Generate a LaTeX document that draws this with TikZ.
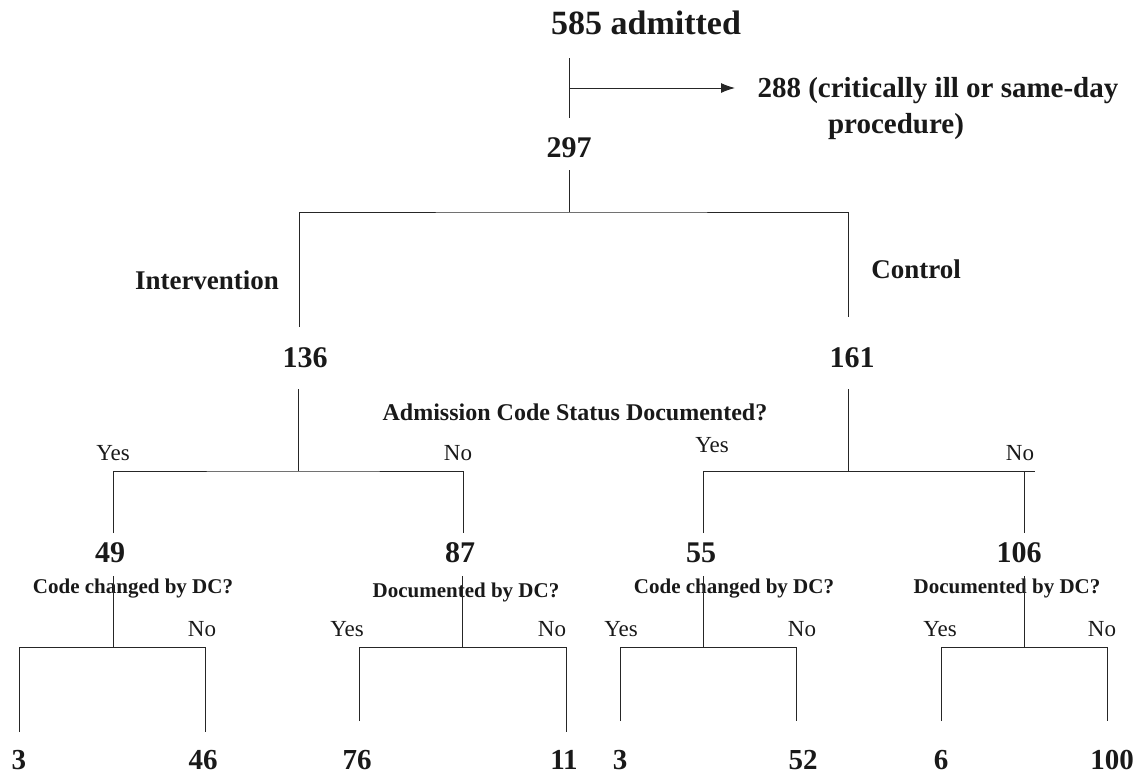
\documentclass[tikz,border=0pt]{standalone}
\usepackage{fontspec}
\setmainfont{Liberation Serif}
\usetikzlibrary{arrows.meta}

\begin{document}
\begin{tikzpicture}[x=1pt, y=-1pt, line width=1pt, draw=black!85,
    every node/.style={inner sep=0pt, text depth=0pt, text=black!90},
    top/.style={font=\fontsize{34}{38}\selectfont\bfseries, text height=23pt},
    num/.style={font=\fontsize{30}{34}\selectfont\bfseries, text height=20pt},
    leaf/.style={font=\fontsize{29}{33}\selectfont\bfseries, text height=19.5pt},
    cut/.style={font=\fontsize{29}{33}\selectfont\bfseries, text height=19pt},
    grp/.style={font=\fontsize{27}{31}\selectfont\bfseries, text height=18pt},
    ques/.style={font=\fontsize{24}{28}\selectfont\bfseries, text height=16pt},
    sub/.style={font=\fontsize{21}{25}\selectfont\bfseries, text height=14pt},
    yn/.style={font=\fontsize{23}{27}\selectfont, text height=15pt},
    arr/.style={-{Latex[length=14pt,width=10pt]}}]
    \useasboundingbox (0,0) rectangle (1140,774);

    % Admission and exclusion
    \node[top] (adm) at (646,23) {585 admitted};
    \node[cut, anchor=west] (cut) at (757,88) {288 (critically ill or same-day};
    \node[cut] (cutb) at (896,124) {procedure)};
    \node[num] (n297) at (569,147) {297};
    \coordinate (t0) at (569,58);
    \coordinate (t1) at (569,118);
    \coordinate (m1) at (569,88);
    \draw (t0) -- (t1);
    \draw[arr] (m1) -- ([xshift=-22pt]cut.west);

    % Randomisation
    \coordinate (j1) at (569,212);
    \coordinate (a1) at (299,327);
    \coordinate (b1) at (848,317);
    \draw (n297) ++(0,23) -- (j1);
    \draw (a1) |- (j1) -| (b1);
    \node[grp] (int) at (207,280) {Intervention};
    \node[grp] (ctl) at (916,269) {Control};
    \node[num] (n136) at (305,357) {136};
    \node[num] (n161) at (852,357) {161};

    % Admission code status
    \node[ques] (adq) at (575,412) {Admission Code Status Documented?};
    \coordinate (j2) at (298,471);
    \coordinate (c49) at (113,533);
    \coordinate (c87) at (463,533);
    \draw (298,389) -- (j2);
    \draw (c49) |- (j2) -| (c87);
    \node[yn] (y2) at (113,453) {Yes};
    \node[yn] (o2) at (458,453) {No};

    \coordinate (j3) at (848,471);
    \coordinate (k3) at (1024,471);
    \coordinate (e3) at (1035,471);
    \coordinate (c55) at (703,533);
    \coordinate (c106) at (1024,533);
    \draw (848,389) -- (j3);
    \draw (c55) |- (e3);
    \draw (k3) -- (c106);
    \node[yn] (y3) at (712,445) {Yes};
    \node[yn] (o3) at (1020,453) {No};

    \node[num] (n49) at (110,552) {49};
    \node[num] (n87) at (460,552) {87};
    \node[num] (n55) at (701,552) {55};
    \node[num] (n106) at (1019,552) {106};

    % Discharge coordinator, intervention arm
    \node[sub] (q49) at (133,586) {Code changed by DC?};
    \coordinate (j4) at (113,647);
    \coordinate (d1) at (19,732);
    \coordinate (d2) at (205,732);
    \draw (113,576) -- (j4);
    \draw (d1) |- (j4) -| (d2);
    \node[yn] (o4) at (202,629) {No};
    \node[leaf] (l1) at (19,760) {3};
    \node[leaf] (l2) at (203,760) {46};

    \node[sub] (q87) at (466,590) {Documented by DC?};
    \coordinate (j5) at (462,647);
    \coordinate (d3) at (359,721);
    \coordinate (d4) at (566,732);
    \draw (462,576) -- (j5);
    \draw (d3) |- (j5) -| (d4);
    \node[yn] (y5) at (347,629) {Yes};
    \node[yn] (o5) at (552,629) {No};
    \node[leaf] (l3) at (357,760) {76};
    \node[leaf] (l4) at (564,760) {11};

    % Discharge coordinator, control arm
    \node[sub] (q55) at (734,586) {Code changed by DC?};
    \coordinate (j6) at (703,647);
    \coordinate (d5) at (620,721);
    \coordinate (d6) at (796,721);
    \draw (703,576) -- (j6);
    \draw (d5) |- (j6) -| (d6);
    \node[yn] (y6) at (621,629) {Yes};
    \node[yn] (o6) at (802,629) {No};
    \node[leaf] (l5) at (620,760) {3};
    \node[leaf] (l6) at (803,760) {52};

    \node[sub] (q106) at (1007,586) {Documented by DC?};
    \coordinate (j7) at (1024,647);
    \coordinate (d7) at (941,721);
    \coordinate (d8) at (1107,721);
    \draw (1024,576) -- (j7);
    \draw (d7) |- (j7) -| (d8);
    \node[yn] (y7) at (940,629) {Yes};
    \node[yn] (o7) at (1102,629) {No};
    \node[leaf] (l7) at (941,760) {6};
    \node[leaf] (l8) at (1112,760) {100};
\end{tikzpicture}
\end{document}
